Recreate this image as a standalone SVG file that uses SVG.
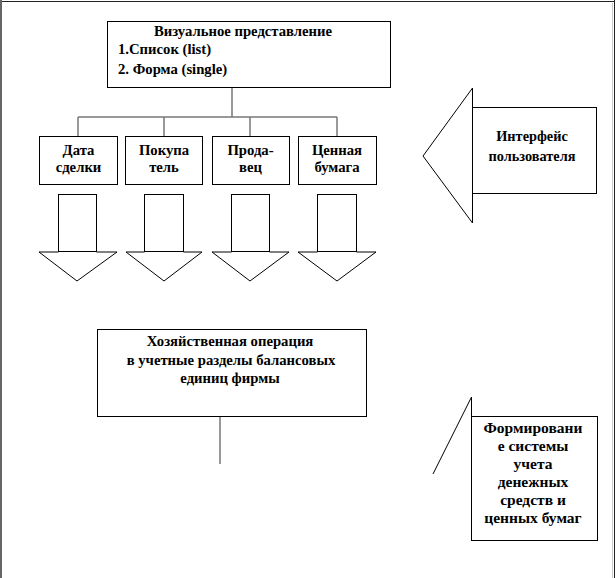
<svg xmlns="http://www.w3.org/2000/svg" width="616" height="578" viewBox="0 0 616 578">
<style>
.box{fill:#fff;stroke:#000;stroke-width:1}
.ln{fill:none;stroke:#000;stroke-width:1}
.gl{fill:none;stroke:#777;stroke-width:1.5}
.c{text-anchor:middle}
</style>
<rect width="616" height="578" fill="#fff"/>
<g id="frame">
<line x1="0" y1="1.5" x2="615" y2="1.5" stroke="#222" stroke-width="1"/>
<line x1="1" y1="0" x2="1" y2="578" stroke="#666" stroke-width="2"/>
<line x1="614.5" y1="0" x2="614.5" y2="578" stroke="#222" stroke-width="1"/>
<line x1="612.5" y1="3" x2="612.5" y2="578" stroke="#ccc" stroke-width="1"/>
</g>
<g id="connectors">
<polyline class="gl" points="232,87 232,117"/>
<polyline class="gl" points="78,117 337,117"/>
<polyline class="gl" points="78,117 78,136"/>
<polyline class="gl" points="164,117 164,136"/>
<polyline class="gl" points="250,117 250,136"/>
<polyline class="gl" points="337,117 337,136"/>
<polyline class="gl" points="220,417 220,464"/>
</g>
<g id="visual">
<rect class="box" x="107.5" y="21.5" width="283" height="66"/>
<text class="c" x="243" y="36" font-family="Liberation Serif" font-weight="bold" font-size="14.7">Визуальное представление</text>
<text x="118" y="54" font-family="Liberation Serif" font-weight="bold" font-size="14.7">1.Список (list)</text>
<text x="118" y="74" font-family="Liberation Serif" font-weight="bold" font-size="14.7">2. Форма (single)</text>
</g>
<g id="date">
<rect class="box" x="39.5" y="136.5" width="78" height="48"/>
<text class="c" x="78.5" y="155" font-family="Liberation Serif" font-weight="bold" font-size="14.7">Дата</text>
<text class="c" x="78.5" y="172" font-family="Liberation Serif" font-weight="bold" font-size="14.7">сделки</text>
</g>
<g id="buyer">
<rect class="box" x="125.5" y="136.5" width="77" height="48"/>
<text class="c" x="164" y="155" font-family="Liberation Serif" font-weight="bold" font-size="14.7">Покупа</text>
<text class="c" x="164" y="172" font-family="Liberation Serif" font-weight="bold" font-size="14.7">тель</text>
</g>
<g id="seller">
<rect class="box" x="212.5" y="136.5" width="77" height="48"/>
<text class="c" x="250.5" y="155" font-family="Liberation Serif" font-weight="bold" font-size="14.7">Прода-</text>
<text class="c" x="250.5" y="172" font-family="Liberation Serif" font-weight="bold" font-size="14.7">вец</text>
</g>
<g id="security">
<rect class="box" x="298.5" y="136.5" width="78" height="48"/>
<text class="c" x="337" y="155" font-family="Liberation Serif" font-weight="bold" font-size="14.7">Ценная</text>
<text class="c" x="337" y="172" font-family="Liberation Serif" font-weight="bold" font-size="14.7">бумага</text>
</g>
<g id="arrow1">
<rect class="box" x="58.5" y="194.5" width="38" height="57"/>
<polyline class="ln" points="58.5,252 39,252 77,281 117,252 96.5,252"/>
</g>
<g id="arrow2">
<rect class="box" x="144.5" y="194.5" width="39" height="57"/>
<polyline class="ln" points="144.5,252 126,252 164,281 202,252 183.5,252"/>
</g>
<g id="arrow3">
<rect class="box" x="231.5" y="194.5" width="38" height="57"/>
<polyline class="ln" points="231.5,252 212,252 250,281 289,252 269.5,252"/>
</g>
<g id="arrow4">
<rect class="box" x="317.5" y="194.5" width="39" height="57"/>
<polyline class="ln" points="317.5,252 298,252 337,281 376,252 356.5,252"/>
</g>
<g id="interface">
<polyline class="ln" points="472.5,88 423,156 472.5,223 472.5,88"/>
<rect class="box" x="472.5" y="107.5" width="124" height="86"/>
<text class="c" x="532" y="141" font-family="Liberation Serif" font-weight="bold" font-size="14.3">Интерфейс</text>
<text class="c" x="532" y="161" font-family="Liberation Serif" font-weight="bold" font-size="14.3">пользователя</text>
</g>
<g id="operation">
<rect class="box" x="97.5" y="329.5" width="269" height="87"/>
<text class="c" x="230" y="346" font-family="Liberation Serif" font-weight="bold" font-size="14.7">Хозяйственная операция</text>
<text class="c" x="231" y="365" font-family="Liberation Serif" font-weight="bold" font-size="14.7">в учетные разделы балансовых</text>
<text class="c" x="230" y="383" font-family="Liberation Serif" font-weight="bold" font-size="14.7">единиц фирмы</text>
</g>
<g id="forming">
<polyline class="ln" points="433,474 471.5,397 471.5,416"/>
<rect class="box" x="471.5" y="416.5" width="126" height="124"/>
<text class="c" x="533" y="433" font-family="Liberation Serif" font-weight="bold" font-size="15.5">Формировани</text>
<text class="c" x="533" y="451" font-family="Liberation Serif" font-weight="bold" font-size="15.5">е системы</text>
<text class="c" x="533" y="469" font-family="Liberation Serif" font-weight="bold" font-size="15.5">учета</text>
<text class="c" x="533" y="487" font-family="Liberation Serif" font-weight="bold" font-size="15.5">денежных</text>
<text class="c" x="533" y="505" font-family="Liberation Serif" font-weight="bold" font-size="15.5">средств и</text>
<text class="c" x="533" y="523" font-family="Liberation Serif" font-weight="bold" font-size="15.5">ценных бумаг</text>
</g>
</svg>
